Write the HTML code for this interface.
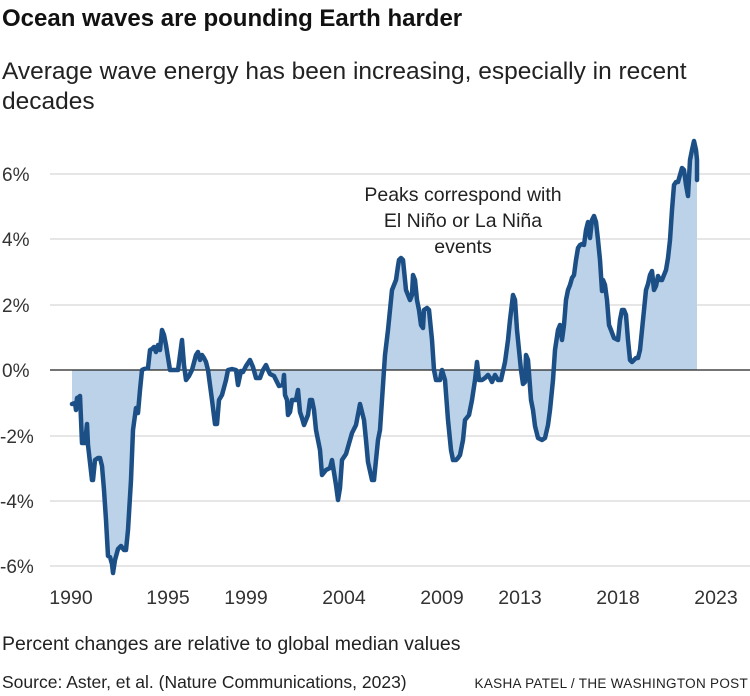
<!DOCTYPE html>
<html><head><meta charset="utf-8"><style>
body{margin:0;background:#fff;width:750px;height:691px;overflow:hidden;font-family:"Liberation Sans",sans-serif;color:#222}
</style></head><body>
<svg width="750" height="691" xmlns="http://www.w3.org/2000/svg" font-family="Liberation Sans, sans-serif">
<text x="2" y="26" font-size="24" font-weight="bold" fill="#111">Ocean waves are pounding Earth harder</text>
<text x="2" y="79" font-size="24.5" fill="#222">Average wave energy has been increasing, especially in recent</text>
<text x="2" y="109" font-size="24.5" fill="#222">decades</text>
<g stroke="#ddd" stroke-width="1.5">
<line x1="50" x2="750" y1="174" y2="174"/><line x1="50" x2="750" y1="239" y2="239"/><line x1="50" x2="750" y1="305" y2="305"/>
<line x1="50" x2="750" y1="436" y2="436"/><line x1="50" x2="750" y1="501" y2="501"/><line x1="50" x2="750" y1="566" y2="566"/>
</g>
<g font-size="19" fill="#333">
<text x="2" y="181">6%</text><text x="2" y="246">4%</text><text x="2" y="312">2%</text><text x="2" y="377">0%</text>
<text x="0" y="443">-2%</text><text x="0" y="508">-4%</text><text x="0" y="573">-6%</text>
</g>
<g font-size="19.5" fill="#333" text-anchor="middle">
<text x="71" y="604">1990</text><text x="168" y="604">1995</text><text x="246" y="604">1999</text><text x="344" y="604">2004</text>
<text x="442" y="604">2009</text><text x="520" y="604">2013</text><text x="618" y="604">2018</text><text x="716" y="604">2023</text>
</g>
<defs><polyline id="d" points="72,404 75,403 76,410 77,398 79,397 80,396 82,443 85,443 87,424 88,445 92,480 93,480 95,460 98,458 100,458 102,466 104,490 106,520 108,556 110,557 112,564 113,573 115,560 118,549 121,546 124,550 126,550 128,530 131,480 133,430 136,408 138,413 140,390 142,370 144,369 148,368 150,350 152,349 154,347 156,352 158,345 160,350 162,330 164,335 166,345 170,370 174,370 178,370 180,355 182,340 184,365 186,380 189,376 192,370 196,355 198,352 200,360 202,355 204,358 206,362 208,370 212,400 215,424 217,424 219,400 222,395 226,380 228,370 232,369 236,370 238,385 241,371 243,372 246,366 250,360 253,367 256,378 260,378 263,370 266,365 268,370 270,374 274,376 276,380 279,386 283,385 284,375 285,395 287,400 288,415 290,412 292,400 296,400 298,390 300,412 302,418 304,425 306,420 308,415 310,400 312,400 314,410 316,430 320,450 322,475 326,470 330,468 332,460 336,485 338,500 340,488 342,460 346,454 350,440 352,433 356,425 360,404 364,420 366,440 368,462 372,480 374,480 378,440 380,430 382,400 385,355 388,330 390,310 392,290 394,285 396,280 398,266 399,260 401,258 403,260 404,270 406,290 408,295 410,300 412,295 413,275 415,280 417,300 419,310 421,325 423,328 424,310 427,308 429,310 432,340 434,370 436,380 440,380 442,370 445,380 448,420 451,450 453,460 456,460 458,458 460,455 463,440 465,420 469,415 472,400 475,380 477,362 479,380 482,380 485,378 488,375 490,378 492,382 495,375 498,380 501,380 505,362 508,340 510,320 513,295 515,300 517,330 519,350 521,370 523,384 525,382 526,355 528,360 531,400 533,410 535,426 538,438 542,440 545,438 548,425 550,410 553,380 555,350 558,330 560,325 562,340 564,325 566,300 568,290 570,285 572,278 574,275 576,260 578,248 580,245 582,244 584,245 586,230 588,222 590,238 592,220 594,216 596,222 598,240 600,260 602,291 603,280 605,285 607,300 609,325 611,330 614,338 618,340 620,320 622,310 624,310 626,315 628,340 630,360 632,362 636,358 638,358 640,350 642,330 644,310 646,290 648,284 650,275 652,271 654,290 656,286 658,276 660,280 662,280 664,275 666,270 668,258 670,240 672,210 674,185 676,182 678,182 680,175 682,168 684,170 686,185 688,196 690,160 692,150 694,141 696,150 697,160 697,180"/></defs>
<polygon fill="#bcd2e8" points="72,370 72,404 75,403 76,410 77,398 79,397 80,396 82,443 85,443 87,424 88,445 92,480 93,480 95,460 98,458 100,458 102,466 104,490 106,520 108,556 110,557 112,564 113,573 115,560 118,549 121,546 124,550 126,550 128,530 131,480 133,430 136,408 138,413 140,390 142,370 144,369 148,368 150,350 152,349 154,347 156,352 158,345 160,350 162,330 164,335 166,345 170,370 174,370 178,370 180,355 182,340 184,365 186,380 189,376 192,370 196,355 198,352 200,360 202,355 204,358 206,362 208,370 212,400 215,424 217,424 219,400 222,395 226,380 228,370 232,369 236,370 238,385 241,371 243,372 246,366 250,360 253,367 256,378 260,378 263,370 266,365 268,370 270,374 274,376 276,380 279,386 283,385 284,375 285,395 287,400 288,415 290,412 292,400 296,400 298,390 300,412 302,418 304,425 306,420 308,415 310,400 312,400 314,410 316,430 320,450 322,475 326,470 330,468 332,460 336,485 338,500 340,488 342,460 346,454 350,440 352,433 356,425 360,404 364,420 366,440 368,462 372,480 374,480 378,440 380,430 382,400 385,355 388,330 390,310 392,290 394,285 396,280 398,266 399,260 401,258 403,260 404,270 406,290 408,295 410,300 412,295 413,275 415,280 417,300 419,310 421,325 423,328 424,310 427,308 429,310 432,340 434,370 436,380 440,380 442,370 445,380 448,420 451,450 453,460 456,460 458,458 460,455 463,440 465,420 469,415 472,400 475,380 477,362 479,380 482,380 485,378 488,375 490,378 492,382 495,375 498,380 501,380 505,362 508,340 510,320 513,295 515,300 517,330 519,350 521,370 523,384 525,382 526,355 528,360 531,400 533,410 535,426 538,438 542,440 545,438 548,425 550,410 553,380 555,350 558,330 560,325 562,340 564,325 566,300 568,290 570,285 572,278 574,275 576,260 578,248 580,245 582,244 584,245 586,230 588,222 590,238 592,220 594,216 596,222 598,240 600,260 602,291 603,280 605,285 607,300 609,325 611,330 614,338 618,340 620,320 622,310 624,310 626,315 628,340 630,360 632,362 636,358 638,358 640,350 642,330 644,310 646,290 648,284 650,275 652,271 654,290 656,286 658,276 660,280 662,280 664,275 666,270 668,258 670,240 672,210 674,185 676,182 678,182 680,175 682,168 684,170 686,185 688,196 690,160 692,150 694,141 696,150 697,160 697,180 697,370"/>
<line x1="50" x2="750" y1="370" y2="370" stroke="#222" stroke-width="1.3"/>
<use href="#d" fill="none" stroke="#1b4f85" stroke-width="4.5" stroke-linejoin="round" stroke-linecap="round"/>
<g font-size="19.5" fill="#222" text-anchor="middle">
<text x="463" y="201">Peaks correspond with</text><text x="463" y="227">El Niño or La Niña</text><text x="463" y="253">events</text>
</g>
<text x="2" y="650" font-size="19.5" fill="#222">Percent changes are relative to global median values</text>
<text x="2" y="688" font-size="17.5" fill="#222">Source: Aster, et al. (Nature Communications, 2023)</text>
<text x="748" y="688" font-size="13.5" fill="#222" text-anchor="end" letter-spacing="0.3">KASHA PATEL / THE WASHINGTON POST</text>
</svg>
</body></html>
